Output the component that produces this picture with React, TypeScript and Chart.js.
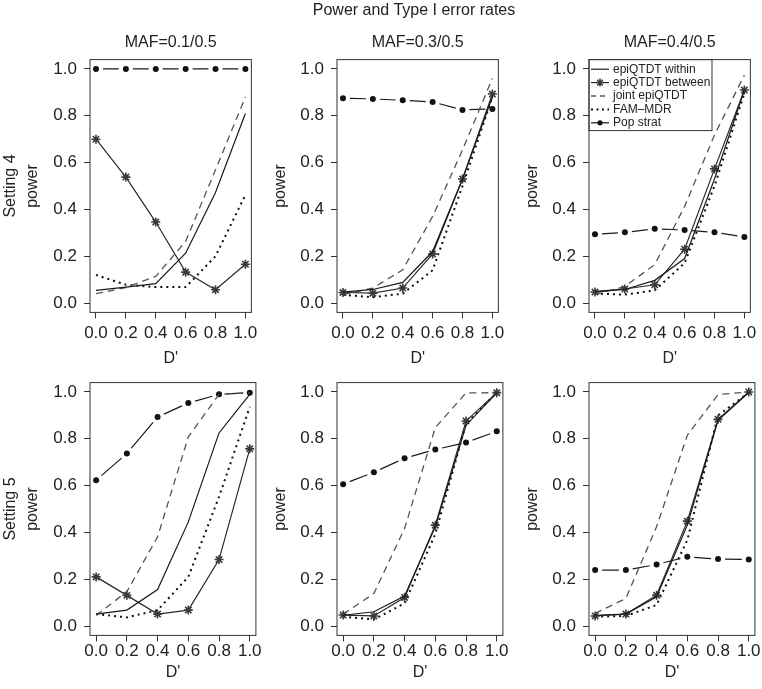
import React, { useEffect, useRef } from "react";
import { Chart, registerables } from "chart.js";

Chart.register(...registerables);

const FONT = "'Liberation Sans', Arial, Helvetica, sans-serif";

// ---- data ----
const dPrime = [0, 0.2, 0.4, 0.6, 0.8, 1.0];
const axisTicks = [0, 0.2, 0.4, 0.6, 0.8, 1.0];
const mainTitle = "Power and Type I error rates";
const mafLabels = ["MAF=0.1/0.5", "MAF=0.3/0.5", "MAF=0.4/0.5"];
const settingLabels = ["Setting 4", "Setting 5"];
const seriesNames = ["epiQTDT within", "epiQTDT between", "joint epiQTDT", "FAM\u2013MDR", "Pop strat"];

// Setting 4, MAF 0.1/0.5
const within_s4_m1 = [0.054, 0.068, 0.083, 0.213, 0.472, 0.81];
const between_s4_m1 = [0.70, 0.538, 0.346, 0.132, 0.057, 0.166];
const joint_s4_m1 = [0.040, 0.066, 0.114, 0.263, 0.569, 0.88];
const fam_s4_m1 = [0.12, 0.078, 0.068, 0.068, 0.20, 0.462];
const pop_s4_m1 = [1.0, 1.0, 1.0, 1.0, 1.0, 1.0];

// Setting 4, MAF 0.3/0.5
const within_s4_m3 = [0.047, 0.058, 0.088, 0.22, 0.53, 0.88];
const between_s4_m3 = [0.045, 0.042, 0.064, 0.21, 0.53, 0.893];
const joint_s4_m3 = [0.036, 0.064, 0.142, 0.37, 0.654, 0.96];
const fam_s4_m3 = [0.035, 0.025, 0.04, 0.14, 0.50, 0.88];
const pop_s4_m3 = [0.875, 0.872, 0.866, 0.859, 0.825, 0.829];

// Setting 4, MAF 0.4/0.5
const within_s4_m4 = [0.05, 0.058, 0.097, 0.19, 0.53, 0.91];
const between_s4_m4 = [0.047, 0.06, 0.078, 0.23, 0.573, 0.91];
const joint_s4_m4 = [0.036, 0.071, 0.164, 0.413, 0.718, 0.974];
const fam_s4_m4 = [0.04, 0.036, 0.054, 0.171, 0.50, 0.896];
const pop_s4_m4 = [0.294, 0.302, 0.317, 0.312, 0.302, 0.282];

// Setting 5, MAF 0.1/0.5
const within_s5_m1 = [0.051, 0.068, 0.156, 0.445, 0.825, 0.99];
const between_s5_m1 = [0.21, 0.131, 0.051, 0.068, 0.284, 0.757];
const joint_s5_m1 = [0.046, 0.147, 0.381, 0.808, 0.99, 0.997];
const fam_s5_m1 = [0.051, 0.037, 0.068, 0.21, 0.552, 0.936];
const pop_s5_m1 = [0.623, 0.737, 0.893, 0.953, 0.99, 0.997];

// Setting 5, MAF 0.3/0.5
const within_s5_m3 = [0.046, 0.061, 0.128, 0.424, 0.858, 0.996];
const between_s5_m3 = [0.047, 0.043, 0.122, 0.431, 0.876, 0.997];
const joint_s5_m3 = [0.051, 0.139, 0.417, 0.848, 0.996, 0.997];
const fam_s5_m3 = [0.04, 0.028, 0.097, 0.393, 0.865, 0.997];
const pop_s5_m3 = [0.606, 0.657, 0.717, 0.754, 0.784, 0.832];

// Setting 5, MAF 0.4/0.5
const within_s5_m4 = [0.046, 0.051, 0.125, 0.431, 0.879, 0.997];
const between_s5_m4 = [0.043, 0.051, 0.132, 0.448, 0.883, 1.0];
const joint_s5_m4 = [0.054, 0.118, 0.424, 0.815, 0.989, 1.0];
const fam_s5_m4 = [0.04, 0.043, 0.09, 0.367, 0.90, 0.997];
const pop_s5_m4 = [0.239, 0.239, 0.263, 0.296, 0.286, 0.284];

const panelSeries = [
  [
    [within_s4_m1, between_s4_m1, joint_s4_m1, fam_s4_m1, pop_s4_m1],
    [within_s4_m3, between_s4_m3, joint_s4_m3, fam_s4_m3, pop_s4_m3],
    [within_s4_m4, between_s4_m4, joint_s4_m4, fam_s4_m4, pop_s4_m4],
  ],
  [
    [within_s5_m1, between_s5_m1, joint_s5_m1, fam_s5_m1, pop_s5_m1],
    [within_s5_m3, between_s5_m3, joint_s5_m3, fam_s5_m3, pop_s5_m3],
    [within_s5_m4, between_s5_m4, joint_s5_m4, fam_s5_m4, pop_s5_m4],
  ],
];

// ---- layout ----
const CANVAS_W = 262;
const colLeft = [0, 247, 499];
const colPadRight = [5, 5, 4];
const rowTop = [0, 323];
const rowHeight = [372, 366];

const popGap = 7;
function popDash(ctx: any) {
  const p0 = ctx.p0, p1 = ctx.p1;
  const L = Math.hypot(p1.x - p0.x, p1.y - p0.y);
  const avail = Math.max(L - 2 * popGap, 1);
  const n = Math.max(1, Math.round(avail / 24));
  const inner = 5;
  const d = Math.max((avail - (n - 1) * inner) / n, 1);
  const pat: number[] = [];
  for (let i = 0; i < n; i++) {
    pat.push(d);
    pat.push(i === n - 1 ? 2 * popGap : inner);
  }
  return pat;
}

const seriesStyles: any[] = [
  { borderColor: "#1a1a1a", borderWidth: 1.2, pointRadius: 0 },
  {
    borderColor: "#2a2a2a", borderWidth: 1.2, pointStyle: "star", pointRadius: 4.5,
    pointBorderColor: "#3a3a3a", pointBackgroundColor: "#3a3a3a", pointBorderWidth: 1.6,
  },
  { borderColor: "#555", borderWidth: 1.3, borderDash: [7, 5], pointRadius: 0 },
  { borderColor: "#111", borderWidth: 2, borderDash: [2, 4], pointRadius: 0 },
  {
    borderColor: "#1a1a1a", borderWidth: 1.2, pointStyle: "circle", pointRadius: 3,
    pointBorderColor: "#111", pointBackgroundColor: "#111", pointBorderWidth: 0,
    segment: { borderDash: popDash, borderDashOffset: () => -popGap },
  },
];

const boxPlugin = {
  id: "boxPlugin",
  afterDraw(chart: any) {
    const { ctx, chartArea: a } = chart;
    ctx.save();
    ctx.strokeStyle = "#333";
    ctx.lineWidth = 1;
    ctx.strokeRect(a.left, a.top, a.right - a.left, a.bottom - a.top);
    ctx.restore();
  },
};

const legendBoxPlugin = {
  id: "legendBoxPlugin",
  afterDraw(chart: any, _args: any, opts: any) {
    if (!opts || !opts.show) return;
    const { ctx, chartArea: a } = chart;
    const w = 123, h = 71;
    ctx.save();
    ctx.strokeStyle = "#333";
    ctx.lineWidth = 1;
    ctx.strokeRect(a.left, a.top, w, h);
    ctx.font = `12px ${FONT}`;
    ctx.textBaseline = "middle";
    ctx.textAlign = "left";
    for (let i = 0; i < seriesNames.length; i++) {
      const y = a.top + 9.6 + i * 13.4;
      const st = seriesStyles[i];
      const x0 = a.left + 2, x1 = a.left + 20, xm = a.left + 11;
      ctx.strokeStyle = st.borderColor;
      ctx.lineWidth = st.borderWidth;
      ctx.setLineDash(i === 2 ? [5, 4] : i === 3 ? [2, 3.5] : []);
      ctx.beginPath();
      ctx.moveTo(x0, y);
      ctx.lineTo(x1, y);
      ctx.stroke();
      ctx.setLineDash([]);
      if (i === 1) {
        ctx.strokeStyle = st.pointBorderColor;
        ctx.lineWidth = 1.5;
        const r = 4;
        ctx.beginPath();
        ctx.moveTo(xm - r, y); ctx.lineTo(xm + r, y);
        ctx.moveTo(xm, y - r); ctx.lineTo(xm, y + r);
        const q = r * 0.7071;
        ctx.moveTo(xm - q, y - q); ctx.lineTo(xm + q, y + q);
        ctx.moveTo(xm - q, y + q); ctx.lineTo(xm + q, y - q);
        ctx.stroke();
      } else if (i === 4) {
        ctx.fillStyle = "#111";
        ctx.beginPath();
        ctx.arc(xm, y, 2.6, 0, Math.PI * 2);
        ctx.fill();
      }
      ctx.fillStyle = "#222";
      ctx.fillText(seriesNames[i], a.left + 24, y);
    }
    ctx.restore();
  },
};

function Panel({ row, col }: { row: number; col: number }) {
  const ref = useRef<HTMLCanvasElement | null>(null);
  useEffect(() => {
    if (!ref.current) return;
    const series = panelSeries[row][col];
    const datasets = series.map((vals, i) => ({
      label: seriesNames[i],
      data: dPrime.map((x, k) => ({ x, y: vals[k] })),
      tension: 0,
      fill: false,
      ...seriesStyles[i],
    }));
    const isTop = row === 0;
    const xAxisH = isTop ? 58 : 48;
    const setTicks = (s: any) => {
      s.ticks = axisTicks.map((v) => ({ value: v }));
    };
    const yTitle = col === 0
      ? { display: true, text: [settingLabels[row], "power"], font: { size: 16, family: FONT, lineHeight: "22px" }, color: "#222", padding: { top: 0, bottom: 0 } }
      : { display: true, text: "power", font: { size: 16, family: FONT, lineHeight: "22px" }, color: "#222", padding: { top: 23, bottom: 0 } };
    const chart = new Chart(ref.current, {
      type: "line",
      data: { datasets },
      plugins: [boxPlugin, legendBoxPlugin],
      options: {
        responsive: false,
        animation: false,
        devicePixelRatio: 1,
        layout: {
          padding: {
            top: isTop ? 0 : 59.6,
            bottom: isTop ? 1.6 : 5.6,
            left: 0,
            right: colPadRight[col],
          },
        },
        plugins: {
          legend: { display: false },
          tooltip: { enabled: false },
          title: isTop
            ? {
                display: true,
                text: mafLabels[col],
                font: { size: 16, family: FONT, weight: "normal", lineHeight: 1.2 },
                color: "#222",
                padding: { top: 33.4, bottom: 7 },
                fullSize: false,
              }
            : { display: false },
          legendBoxPlugin: { show: row === 0 && col === 2 },
        } as any,
        scales: {
          x: {
            type: "linear",
            min: -0.04,
            max: 1.04,
            afterBuildTicks: setTicks,
            afterFit: (s: any) => { s.height = xAxisH; },
            ticks: {
              font: { size: 17, family: FONT },
              color: "#222",
              padding: isTop ? 4.4 : 0.2,
              autoSkip: false,
              maxRotation: 0,
              minRotation: 0,
              callback: (v: any) => Number(v).toFixed(1),
            },
            grid: { display: true, drawOnChartArea: false, drawTicks: true, tickLength: 6, color: "#333" },
            border: { display: false },
            title: {
              display: true,
              text: "D'",
              font: { size: 16, family: FONT, lineHeight: 1.2 },
              color: "#222",
              padding: { top: 0, bottom: isTop ? 1.8 : 1.5 },
            },
          },
          y: {
            type: "linear",
            min: -0.04,
            max: 1.04,
            afterBuildTicks: setTicks,
            afterFit: (s: any) => { s.width = 90; },
            ticks: {
              font: { size: 17, family: FONT },
              color: "#222",
              padding: 7,
              autoSkip: false,
              callback: (v: any) => Number(v).toFixed(1),
            },
            grid: { display: true, drawOnChartArea: false, drawTicks: true, tickLength: 6, color: "#333" },
            border: { display: false },
            title: yTitle as any,
          },
        },
      } as any,
    });
    return () => chart.destroy();
  }, [row, col]);
  return (
    <canvas
      ref={ref}
      width={CANVAS_W}
      height={rowHeight[row]}
      style={{
        position: "absolute",
        left: colLeft[col],
        top: rowTop[row],
        width: CANVAS_W,
        height: rowHeight[row],
        display: "block",
      }}
    />
  );
}

export default function App() {
  const cells: React.ReactNode[] = [];
  for (let r = 0; r < 2; r++) for (let c = 0; c < 3; c++) cells.push(<Panel key={`${r}-${c}`} row={r} col={c} />);
  return (
    <div style={{ position: "absolute", left: 0, top: 0, width: 762, height: 689, overflow: "hidden", background: "#fff" }}>
      {cells}
      <div
        style={{
          position: "absolute",
          left: 414,
          top: 0,
          transform: "translateX(-50%)",
          whiteSpace: "nowrap",
          font: `16px ${FONT}`,
          lineHeight: "20px",
          color: "#222",
        }}
      >
        {mainTitle}
      </div>
    </div>
  );
}
